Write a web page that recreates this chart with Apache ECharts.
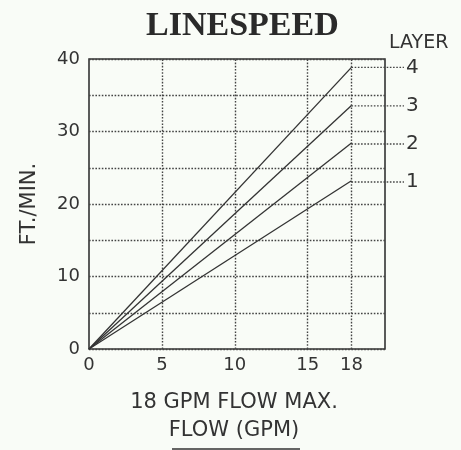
<!DOCTYPE html>
<html>
<head>
<meta charset="utf-8">
<script src="https://cdn.jsdelivr.net/npm/echarts@6/dist/echarts.min.js"></script>
<style>
html,body{margin:0;padding:0;background:#f9fcf7;}
#c{width:461px;height:450px;}
</style>
</head>
<body>
<div id="c"></div>
<script>
// Data
const layers = ['1', '2', '3', '4'];
const flowPoints = [0, 18];              // GPM
const layerSpeeds = [                    // FT./MIN. at 0 and 18 GPM
  [0, 23.2],
  [0, 28.4],
  [0, 33.6],
  [0, 38.85]
];
const xTickLabels = [0, 5, 10, 15, 18];
const xGridValues = [5, 10, 15, 18];
const xMax = 20.3;
const leaderEndX = 21.6;
const leaderAxisMax = 24;

const ink = '#333';
const dotted = { color: '#444', width: 1.4, type: [1.6, 1.6] };
const font = 'DejaVu Sans';

// plot geometry
const gLeft = 89, gTop = 59, gBottom = 98, gWidth = 296;
const pxPerUnit = gWidth / xMax;

const series = [];
layerSpeeds.forEach((vals, i) => {
  series.push({
    type: 'line',
    name: 'Layer ' + layers[i],
    xAxisIndex: 0, yAxisIndex: 0,
    data: flowPoints.map((x, j) => [x, vals[j]]),
    showSymbol: false,
    symbol: 'none',
    lineStyle: { color: ink, width: 1.3 },
    z: 5
  });
  const end = vals[vals.length - 1];
  series.push({
    type: 'line',
    name: 'leader ' + layers[i],
    xAxisIndex: 1, yAxisIndex: 1,
    data: [[flowPoints[flowPoints.length - 1], end], [leaderEndX, end]],
    showSymbol: false,
    symbol: 'none',
    lineStyle: dotted,
    endLabel: {
      show: true,
      formatter: layers[i],
      distance: 2,
      color: ink,
      fontFamily: font,
      fontSize: 20
    },
    z: 4
  });
});
series.push({
  type: 'line',
  name: 'xgrid',
  xAxisIndex: 0, yAxisIndex: 0,
  data: [],
  markLine: {
    silent: true,
    symbol: 'none',
    label: { show: false },
    lineStyle: dotted,
    data: xGridValues.map(v => ({ xAxis: v }))
  }
});

const chart = echarts.init(document.getElementById('c'), null, { renderer: 'canvas' });
chart.setOption({
  backgroundColor: '#f9fcf7',
  animation: false,
  title: [
    {
      text: 'LINESPEED',
      left: 141, top: 4,
      textStyle: { fontFamily: 'Liberation Serif', fontWeight: 'bold', fontSize: 34, color: '#2a2a2a' }
    },
    {
      text: 'LAYER',
      left: 384, top: 29,
      textStyle: { fontFamily: font, fontWeight: 'normal', fontSize: 19, color: ink }
    }
  ],
  grid: [
    {
      left: gLeft, width: gWidth, top: gTop, bottom: gBottom,
      show: true, borderColor: ink, borderWidth: 1.6, backgroundColor: 'transparent'
    },
    {
      left: gLeft, width: leaderAxisMax * pxPerUnit, top: gTop, bottom: gBottom,
      show: false
    }
  ],
  xAxis: [
    {
      type: 'value',
      gridIndex: 0,
      min: 0, max: xMax,
      axisLine: { show: false },
      axisTick: { show: false },
      splitLine: { show: false },
      axisLabel: {
        customValues: xTickLabels,
        margin: 7,
        color: ink, fontFamily: font, fontSize: 18
      },
      name: '18 GPM FLOW MAX.\nFLOW (GPM)',
      nameLocation: 'middle',
      nameGap: 40,
      nameTextStyle: { color: ink, fontFamily: font, fontSize: 21, lineHeight: 28, padding: [0, 6, 0, 0] }
    },
    {
      type: 'value',
      gridIndex: 1,
      min: 0, max: leaderAxisMax,
      show: false
    }
  ],
  yAxis: [
    {
      type: 'value',
      gridIndex: 0,
      min: 0, max: 40, interval: 10,
      axisLine: { show: false },
      axisTick: { show: false },
      minorTick: { show: false, splitNumber: 2 },
      minorSplitLine: { show: true, lineStyle: dotted },
      splitLine: { show: true, lineStyle: dotted },
      axisLabel: { margin: 9, color: ink, fontFamily: font, fontSize: 18 },
      name: 'FT./MIN.',
      nameLocation: 'middle',
      nameGap: 49,
      nameRotate: 90,
      nameTextStyle: { color: ink, fontFamily: font, fontSize: 21 }
    },
    {
      type: 'value',
      gridIndex: 1,
      min: 0, max: 40,
      show: false
    }
  ],
  graphic: [
    { type: 'line', shape: { x1: 172, y1: 449, x2: 300, y2: 449 }, style: { stroke: ink, lineWidth: 1.5 } }
  ],
  series: series
});
</script>
</body>
</html>
